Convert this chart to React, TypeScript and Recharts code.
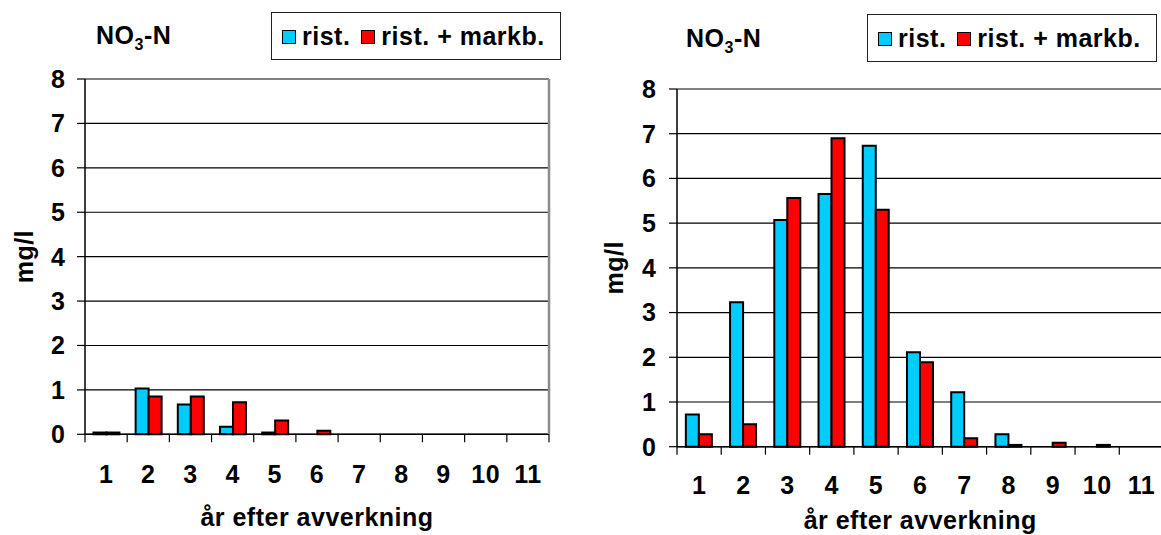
import React from 'react';
import { BarChart, Bar, XAxis, YAxis, CartesianGrid, Label, Legend } from 'recharts';

const years = ['1', '2', '3', '4', '5', '6', '7', '8', '9', '10', '11'];
const yTicks = [0, 1, 2, 3, 4, 5, 6, 7, 8];
const seriesNames = ['rist.', 'rist. + markb.'];
const seriesColors = ['#00CCFF', '#FF0000'];

const leftRist = [0.04, 1.03, 0.67, 0.17, 0.04, 0, 0, 0, 0, 0, 0];
const leftMarkb = [0.04, 0.85, 0.85, 0.72, 0.31, 0.08, 0, 0, 0, 0, 0];
const rightRist = [0.72, 3.23, 5.07, 5.65, 6.73, 2.11, 1.22, 0.28, 0, 0, 0];
const rightMarkb = [0.28, 0.5, 5.56, 6.9, 5.3, 1.89, 0.19, 0.04, 0.09, 0.04, 0];

const titleMain = 'NO';
const titleSub = '3';
const titleTail = '-N';
const yLabel = 'mg/l';
const xLabel = 'år efter avverkning';

const FONT = '"Liberation Sans", Arial, Helvetica, sans-serif';
const FS = 25;
const TICK = 8;
const textStyle: React.CSSProperties = {
  fontFamily: FONT,
  fontWeight: 'bold',
  fontSize: FS,
  letterSpacing: '0.5px',
};

type Cfg = {
  left: number;
  width: number;
  height: number;
  margin: { top: number; right: number; bottom: number; left: number };
  yAxisWidth: number;
  rightAxisWidth: number;
  yTickMargin: number;
  xTickMargin: number;
  xTitleBase: number;
  yTitleX: number;
  titleX: number;
  titleBase: number;
  legend: { left: number; top: number; width: number; height: number };
};

const leftCfg: Cfg = {
  left: 0,
  width: 580,
  height: 535,
  margin: { top: 79, right: 29, bottom: 40.7, left: 0 },
  yAxisWidth: 85,
  rightAxisWidth: 2,
  yTickMargin: 12,
  xTickMargin: 23,
  xTitleBase: 91.5,
  yTitleX: 33,
  titleX: 96,
  titleBase: 44,
  legend: { left: 271, top: 12, width: 290, height: 48 },
};

const rightCfg: Cfg = {
  left: 580,
  width: 600,
  height: 535,
  margin: { top: 89, right: 14.5, bottom: 28.3, left: 0 },
  yAxisWidth: 97,
  rightAxisWidth: 2,
  yTickMargin: 13,
  xTickMargin: 22,
  xTitleBase: 82.5,
  yTitleX: 43,
  titleX: 106,
  titleBase: 47,
  legend: { left: 287, top: 14, width: 290, height: 48 },
};

const LegendBox = (props: any) => {
  const items =
    props && props.payload && props.payload.length
      ? props.payload.map((p: any) => ({ name: p.value, color: p.color }))
      : seriesNames.map((n, i) => ({ name: n, color: seriesColors[i] }));
  return (
    <div
      style={{
        boxSizing: 'border-box',
        width: '100%',
        height: '100%',
        border: '1px solid #222',
        background: '#fff',
        display: 'flex',
        alignItems: 'center',
        paddingLeft: 10,
        ...textStyle,
        lineHeight: '25px',
        whiteSpace: 'nowrap',
        color: '#000',
      }}
    >
      {items.map((it: any, i: number) => (
        <span key={i} style={{ display: 'inline-flex', alignItems: 'center', marginRight: i === 0 ? 11 : 0 }}>
          <span
            style={{
              display: 'inline-block',
              width: 14,
              height: 14,
              background: it.color,
              border: '1.5px solid #000',
              boxSizing: 'border-box',
              marginRight: 6,
              marginTop: 2,
            }}
          />
          <span>{it.name}</span>
        </span>
      ))}
    </div>
  );
};

const Panel = ({ cfg, rist, markb }: { cfg: Cfg; rist: number[]; markb: number[] }) => {
  const data = years.map((year, i) => ({ year, rist: rist[i], markb: markb[i] }));
  const plotW = cfg.width - cfg.margin.left - cfg.margin.right - cfg.yAxisWidth - cfg.rightAxisWidth;
  const half = plotW / years.length / 2;

  const XTick = (p: any) => {
    const { x, y, payload, index } = p;
    const axisY = y - TICK - cfg.xTickMargin;
    return (
      <g>
        <line x1={x - half} x2={x - half} y1={axisY} y2={axisY + TICK} stroke="#000" strokeWidth={1.2} />
        {index === years.length - 1 && (
          <line x1={x + half} x2={x + half} y1={axisY} y2={axisY + TICK} stroke="#000" strokeWidth={1.2} />
        )}
        <text x={x} y={y} dy="0.71em" textAnchor="middle" fill="#000" style={textStyle}>
          {payload.value}
        </text>
      </g>
    );
  };

  const YTick = (p: any) => {
    const { x, y, payload } = p;
    return (
      <text x={x} y={y} dy="0.355em" textAnchor="end" fill="#000" style={{ ...textStyle, letterSpacing: 0 }}>
        {payload.value}
      </text>
    );
  };

  const XTitle = (p: any) => {
    const vb = p.viewBox || {};
    return (
      <text x={vb.x + vb.width / 2} y={vb.y + cfg.xTitleBase} textAnchor="middle" fill="#000" style={textStyle}>
        {xLabel}
      </text>
    );
  };

  const YTitle = (p: any) => {
    const vb = p.viewBox || {};
    const cy = vb.y + vb.height / 2;
    return (
      <text
        x={cfg.yTitleX}
        y={cy}
        transform={`rotate(-90, ${cfg.yTitleX}, ${cy})`}
        textAnchor="middle"
        fill="#000"
        style={textStyle}
      >
        {yLabel}
      </text>
    );
  };

  return (
    <div style={{ position: 'absolute', left: cfg.left, top: 0, width: cfg.width, height: cfg.height }}>
      <BarChart
        width={cfg.width}
        height={cfg.height}
        data={data}
        margin={cfg.margin}
        barCategoryGap="20%"
        barGap={0}
      >
        <CartesianGrid vertical={false} stroke="#000" strokeWidth={1.2} />
        <XAxis
          dataKey="year"
          interval={0}
          height={60}
          tick={XTick}
          tickLine={false}
          tickSize={TICK}
          tickMargin={cfg.xTickMargin}
          axisLine={{ stroke: '#000', strokeWidth: 1.5 }}
        >
          <Label content={XTitle} />
        </XAxis>
        <XAxis
          xAxisId="top"
          dataKey="year"
          orientation="top"
          height={0}
          tick={false}
          tickLine={false}
          axisLine={{ stroke: '#999', strokeWidth: 2.5 }}
        />
        <YAxis
          domain={[0, 8]}
          ticks={yTicks}
          interval={0}
          width={cfg.yAxisWidth}
          tickSize={TICK}
          tickMargin={cfg.yTickMargin}
          tick={YTick}
          tickLine={{ stroke: '#000', strokeWidth: 1.2 }}
          axisLine={{ stroke: '#000', strokeWidth: 1.5 }}
        >
          <Label content={YTitle} />
        </YAxis>
        <YAxis
          yAxisId="r"
          orientation="right"
          width={cfg.rightAxisWidth}
          domain={[0, 8]}
          ticks={yTicks}
          tick={false}
          tickLine={false}
          axisLine={{ stroke: '#8c8c8c', strokeWidth: 2.5 }}
        />
        <Legend
          layout="horizontal"
          verticalAlign="middle"
          align="center"
          wrapperStyle={{
            position: 'absolute',
            left: cfg.legend.left,
            top: cfg.legend.top,
            width: cfg.legend.width,
            height: cfg.legend.height,
          }}
          content={LegendBox}
        />
        <Bar
          dataKey="rist"
          name={seriesNames[0]}
          fill={seriesColors[0]}
          stroke="#000"
          strokeWidth={2}
          isAnimationActive={false}
        />
        <Bar
          dataKey="markb"
          name={seriesNames[1]}
          fill={seriesColors[1]}
          stroke="#000"
          strokeWidth={2}
          isAnimationActive={false}
        />
      </BarChart>
      <div
        style={{
          position: 'absolute',
          left: cfg.titleX,
          top: cfg.titleBase - 21.2,
          ...textStyle,
          lineHeight: '25px',
          whiteSpace: 'nowrap',
          color: '#000',
        }}
      >
        {titleMain}
        <span style={{ fontSize: 16, position: 'relative', top: 6 }}>{titleSub}</span>
        {titleTail}
      </div>
    </div>
  );
};

export default function App() {
  return (
    <div
      style={{
        position: 'absolute',
        left: 0,
        top: 0,
        width: 1161,
        height: 535,
        overflow: 'hidden',
        background: '#fff',
      }}
    >
      <Panel cfg={leftCfg} rist={leftRist} markb={leftMarkb} />
      <Panel cfg={rightCfg} rist={rightRist} markb={rightMarkb} />
    </div>
  );
}
